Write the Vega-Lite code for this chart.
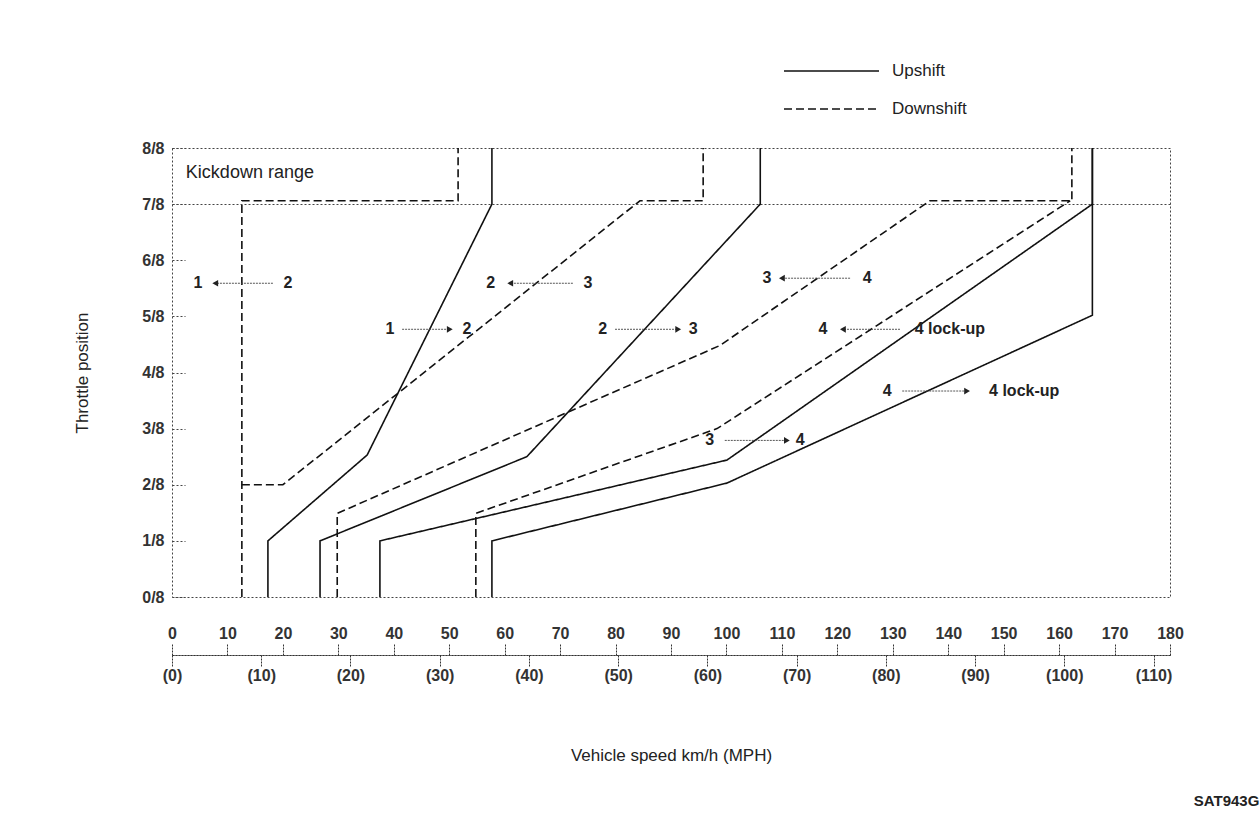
{
  "$schema": "https://vega.github.io/schema/vega-lite/v6.json",
  "width": 998,
  "height": 449,
  "autosize": {"type": "none"},
  "padding": {"left": 172, "top": 148, "right": 90, "bottom": 220},
  "background": "white",
  "title": {"text": "SAT943G", "orient": "bottom", "anchor": "end", "dx": 76, "offset": 31, "fontSize": 15, "fontWeight": "bold", "color": "#222", "font": "Liberation Sans"},
  "config": {
    "font": "Liberation Sans",
    "view": {"stroke": "#444", "strokeDash": [2, 2], "strokeWidth": 1},
    "legend": {
      "orient": "none", "legendX": 648.5, "legendY": -88, "title": null, "padding": 0,
      "symbolType": "M-4.75,0H4.75", "symbolSize": 400, "symbolStrokeWidth": 1.4,
      "labelOffset": 49.5, "rowPadding": 19, "labelFontSize": 17, "labelColor": "#222", "labelFont": "Liberation Sans"
    }
  },
  "datasets": {
    "curves": [
      {"series": "1-2 up", "type": "Upshift", "ord": 0, "speed": 17.3, "throttle": 0},
      {"series": "1-2 up", "type": "Upshift", "ord": 1, "speed": 17.3, "throttle": 1},
      {"series": "1-2 up", "type": "Upshift", "ord": 2, "speed": 35.2, "throttle": 2.53},
      {"series": "1-2 up", "type": "Upshift", "ord": 3, "speed": 57.7, "throttle": 7},
      {"series": "1-2 up", "type": "Upshift", "ord": 4, "speed": 57.7, "throttle": 8},
      {"series": "2-3 up", "type": "Upshift", "ord": 0, "speed": 26.7, "throttle": 0},
      {"series": "2-3 up", "type": "Upshift", "ord": 1, "speed": 26.7, "throttle": 1},
      {"series": "2-3 up", "type": "Upshift", "ord": 2, "speed": 64.0, "throttle": 2.5},
      {"series": "2-3 up", "type": "Upshift", "ord": 3, "speed": 106.1, "throttle": 7},
      {"series": "2-3 up", "type": "Upshift", "ord": 4, "speed": 106.1, "throttle": 8},
      {"series": "3-4 up", "type": "Upshift", "ord": 0, "speed": 37.5, "throttle": 0},
      {"series": "3-4 up", "type": "Upshift", "ord": 1, "speed": 37.5, "throttle": 1},
      {"series": "3-4 up", "type": "Upshift", "ord": 2, "speed": 100.1, "throttle": 2.44},
      {"series": "3-4 up", "type": "Upshift", "ord": 3, "speed": 166.0, "throttle": 7},
      {"series": "3-4 up", "type": "Upshift", "ord": 4, "speed": 166.0, "throttle": 8},
      {"series": "4 lock-up on", "type": "Upshift", "ord": 0, "speed": 57.7, "throttle": 0},
      {"series": "4 lock-up on", "type": "Upshift", "ord": 1, "speed": 57.7, "throttle": 1},
      {"series": "4 lock-up on", "type": "Upshift", "ord": 2, "speed": 100.1, "throttle": 2.03},
      {"series": "4 lock-up on", "type": "Upshift", "ord": 3, "speed": 166.0, "throttle": 5.02},
      {"series": "4 lock-up on", "type": "Upshift", "ord": 4, "speed": 166.0, "throttle": 8},
      {"series": "2-1 down", "type": "Downshift", "ord": 0, "speed": 12.6, "throttle": 0},
      {"series": "2-1 down", "type": "Downshift", "ord": 1, "speed": 12.6, "throttle": 7.06},
      {"series": "2-1 down", "type": "Downshift", "ord": 2, "speed": 51.6, "throttle": 7.06},
      {"series": "2-1 down", "type": "Downshift", "ord": 3, "speed": 51.6, "throttle": 8},
      {"series": "3-2 down", "type": "Downshift", "ord": 0, "speed": 12.6, "throttle": 2},
      {"series": "3-2 down", "type": "Downshift", "ord": 1, "speed": 20.0, "throttle": 2},
      {"series": "3-2 down", "type": "Downshift", "ord": 2, "speed": 84.4, "throttle": 7.06},
      {"series": "3-2 down", "type": "Downshift", "ord": 3, "speed": 95.8, "throttle": 7.06},
      {"series": "3-2 down", "type": "Downshift", "ord": 4, "speed": 95.8, "throttle": 8},
      {"series": "4-3 down", "type": "Downshift", "ord": 0, "speed": 29.8, "throttle": 0},
      {"series": "4-3 down", "type": "Downshift", "ord": 1, "speed": 29.8, "throttle": 1.49},
      {"series": "4-3 down", "type": "Downshift", "ord": 2, "speed": 98.8, "throttle": 4.48},
      {"series": "4-3 down", "type": "Downshift", "ord": 3, "speed": 136.7, "throttle": 7.06},
      {"series": "4-3 down", "type": "Downshift", "ord": 4, "speed": 162.3, "throttle": 7.06},
      {"series": "4-3 down", "type": "Downshift", "ord": 5, "speed": 162.3, "throttle": 8},
      {"series": "4 lock-up off", "type": "Downshift", "ord": 0, "speed": 54.8, "throttle": 0},
      {"series": "4 lock-up off", "type": "Downshift", "ord": 1, "speed": 54.8, "throttle": 1.49},
      {"series": "4 lock-up off", "type": "Downshift", "ord": 2, "speed": 98.3, "throttle": 3.0},
      {"series": "4 lock-up off", "type": "Downshift", "ord": 3, "speed": 162.0, "throttle": 7.06}
    ],
    "arrows": [
      {"speed": 18.2, "speed2": 7.8, "throttle": 5.59, "dir": "left"},
      {"speed": 41.5, "speed2": 50.1, "throttle": 4.77, "dir": "right"},
      {"speed": 72.3, "speed2": 61.0, "throttle": 5.59, "dir": "left"},
      {"speed": 79.9, "speed2": 91.3, "throttle": 4.77, "dir": "right"},
      {"speed": 122.3, "speed2": 110.0, "throttle": 5.68, "dir": "left"},
      {"speed": 131.3, "speed2": 121.0, "throttle": 4.77, "dir": "left"},
      {"speed": 131.7, "speed2": 143.4, "throttle": 3.67, "dir": "right"},
      {"speed": 99.7, "speed2": 110.9, "throttle": 2.79, "dir": "right"}
    ],
    "labels": [
      {"label": "1", "speed": 4.7, "throttle": 5.59},
      {"label": "2", "speed": 20.9, "throttle": 5.59},
      {"label": "1", "speed": 39.3, "throttle": 4.77},
      {"label": "2", "speed": 53.2, "throttle": 4.77},
      {"label": "2", "speed": 57.5, "throttle": 5.59},
      {"label": "3", "speed": 75.0, "throttle": 5.59},
      {"label": "2", "speed": 77.7, "throttle": 4.77},
      {"label": "3", "speed": 94.0, "throttle": 4.77},
      {"label": "3", "speed": 107.3, "throttle": 5.68},
      {"label": "4", "speed": 125.4, "throttle": 5.68},
      {"label": "4", "speed": 117.4, "throttle": 4.77},
      {"label": "4 lock-up", "speed": 140.3, "throttle": 4.77},
      {"label": "4", "speed": 129.0, "throttle": 3.67},
      {"label": "4 lock-up", "speed": 153.7, "throttle": 3.67},
      {"label": "3", "speed": 97.0, "throttle": 2.79},
      {"label": "4", "speed": 113.3, "throttle": 2.79}
    ],
    "notes": [
      {"label": "Kickdown range", "speed": 2.5, "throttle": 7.56}
    ]
  },
  "layer": [
    {
      "data": {"name": "curves"},
      "mark": {"type": "line", "color": "#111", "strokeWidth": 1.6},
      "encoding": {
        "x": {
          "field": "speed", "type": "quantitative",
          "scale": {"domain": [0, 180], "nice": false, "zero": false},
          "axis": {
            "orient": "top", "offset": -507, "title": null,
            "values": [0, 10, 20, 30, 40, 50, 60, 70, 80, 90, 100, 110, 120, 130, 140, 150, 160, 170, 180],
            "tickSize": 11, "tickColor": "#333", "tickDash": [2, 1], "labelPadding": 3,
            "domainColor": "#333", "domainDash": [2, 1], "grid": false,
            "labelFontSize": 16, "labelFontWeight": "bold", "labelColor": "#333", "labelFont": "Liberation Sans",
            "labelFlush": false, "labelOverlap": false
          }
        },
        "y": {
          "field": "throttle", "type": "quantitative",
          "scale": {"domain": [0, 8], "nice": false},
          "axis": {
            "orient": "left", "title": "Throttle position",
            "values": [0, 1, 2, 3, 4, 5, 6, 7, 8],
            "labelExpr": "datum.value + '/8'",
            "domain": false, "tickSize": -13, "tickColor": "#444", "tickDash": [2, 2],
            "labelPadding": 21, "labelFontSize": 16, "labelFontWeight": "bold", "labelColor": "#333", "labelFont": "Liberation Sans",
            "grid": true, "gridColor": "#444", "gridDash": [2, 2],
            "gridOpacity": {"condition": {"test": "datum.value == 7", "value": 1}, "value": 0},
            "titleFontSize": 17, "titleFontWeight": "normal", "titleColor": "#222", "titleFont": "Liberation Sans", "titlePadding": 50,
            "labelFlush": false, "labelOverlap": false
          }
        },
        "strokeDash": {
          "field": "type", "type": "nominal",
          "scale": {"domain": ["Upshift", "Downshift"], "range": [[1, 0], [8, 4]]}
        },
        "detail": {"field": "series", "type": "nominal"},
        "order": {"field": "ord", "type": "quantitative"}
      }
    },
    {
      "data": {"name": "arrows"},
      "mark": {"type": "rule", "color": "#444", "strokeWidth": 0.9, "strokeDash": [2, 1]},
      "encoding": {
        "x": {"field": "speed", "type": "quantitative", "axis": null},
        "x2": {"field": "speed2"},
        "y": {"field": "throttle", "type": "quantitative"}
      }
    },
    {
      "data": {"name": "arrows"},
      "mark": {"type": "point", "filled": true, "color": "#222", "size": 45, "opacity": 1},
      "encoding": {
        "x": {"field": "speed2", "type": "quantitative", "axis": null},
        "y": {"field": "throttle", "type": "quantitative"},
        "shape": {"field": "dir", "type": "nominal", "scale": {"domain": ["left", "right"], "range": ["triangle-left", "triangle-right"]}, "legend": null}
      }
    },
    {
      "data": {"name": "labels"},
      "mark": {"type": "text", "fontSize": 16, "fontWeight": "bold", "color": "#222", "align": "center", "baseline": "middle", "font": "Liberation Sans"},
      "encoding": {
        "x": {
          "field": "speed", "type": "quantitative",
          "axis": {
            "orient": "bottom", "offset": 58, "title": "Vehicle speed km/h (MPH)",
            "values": [0, 16.09344, 32.18688, 48.28032, 64.37376, 80.4672, 96.56064, 112.65408, 128.74752, 144.84096, 160.9344, 177.02784],
            "labelExpr": "'(' + round(datum.value / 1.609344) + ')'",
            "tickSize": 11, "tickColor": "#333", "tickDash": [2, 1], "labelPadding": 1,
            "domainColor": "#333", "domainDash": [2, 1], "grid": false,
            "labelFontSize": 16, "labelFontWeight": "bold", "labelColor": "#333", "labelFont": "Liberation Sans",
            "labelFlush": false, "labelOverlap": false,
            "titleFontSize": 17, "titleFontWeight": "normal", "titleColor": "#222", "titleFont": "Liberation Sans", "titlePadding": 64
          }
        },
        "y": {"field": "throttle", "type": "quantitative"},
        "text": {"field": "label", "type": "nominal"}
      }
    },
    {
      "data": {"name": "notes"},
      "mark": {"type": "text", "fontSize": 18, "fontWeight": "normal", "color": "#222", "align": "left", "baseline": "middle", "font": "Liberation Sans"},
      "encoding": {
        "x": {"field": "speed", "type": "quantitative", "axis": null},
        "y": {"field": "throttle", "type": "quantitative"},
        "text": {"field": "label", "type": "nominal"}
      }
    }
  ],
  "resolve": {"axis": {"x": "independent"}}
}
